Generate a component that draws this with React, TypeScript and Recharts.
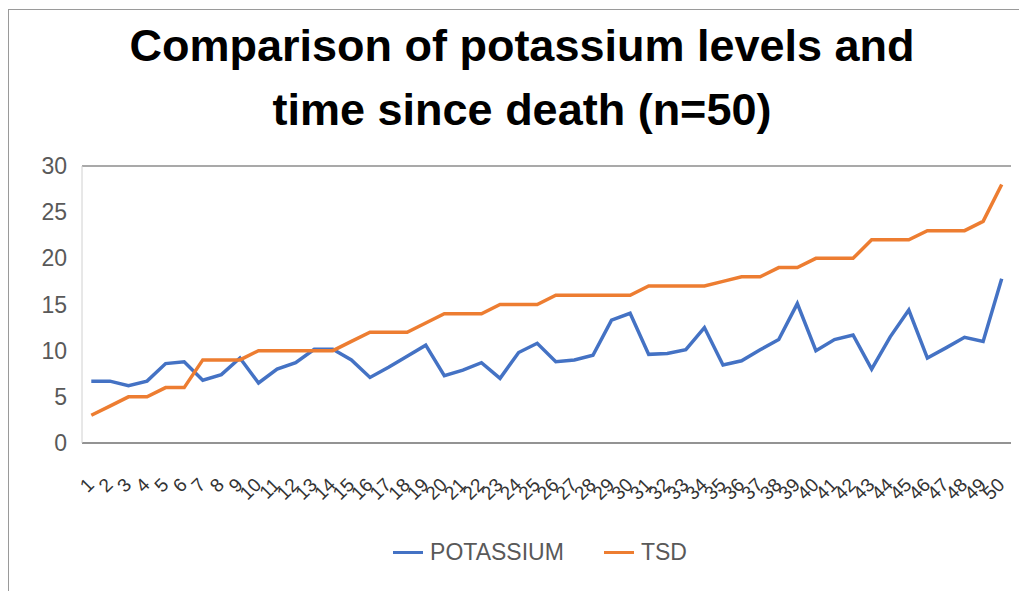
import React from 'react';
import { LineChart, Line, XAxis, YAxis, CartesianGrid } from 'recharts';

const caseLabels = [
  '1', '2', '3', '4', '5', '6', '7', '8', '9', '10',
  '11', '12', '13', '14', '15', '16', '17', '18', '19', '20',
  '21', '22', '23', '24', '25', '26', '27', '28', '29', '30',
  '31', '32', '33', '34', '35', '36', '37', '38', '39', '40',
  '41', '42', '43', '44', '45', '46', '47', '48', '49', '50',
];

const potassium = [
  6.7, 6.7, 6.2, 6.7, 8.6, 8.8, 6.8, 7.4, 9.2, 6.5,
  8.0, 8.7, 10.15, 10.15, 9.0, 7.1, 8.2, 9.4, 10.6, 7.3,
  7.9, 8.7, 7.0, 9.8, 10.8, 8.8, 9.0, 9.5, 13.3, 14.05,
  9.6, 9.7, 10.1, 12.5, 8.45, 8.9, 10.1, 11.2, 15.1, 10.0,
  11.2, 11.7, 8.0, 11.5, 14.4, 9.2, 10.3, 11.45, 11.0, 17.8,
];

const tsd = [
  3, 4, 5, 5, 6, 6, 9, 9, 9, 10,
  10, 10, 10, 10, 11, 12, 12, 12, 13, 14,
  14, 14, 15, 15, 15, 16, 16, 16, 16, 16,
  17, 17, 17, 17, 17.5, 18, 18, 19, 19, 20,
  20, 20, 22, 22, 22, 23, 23, 23, 24, 28,
];

const yTicks = [0, 5, 10, 15, 20, 25, 30];

const seriesInfo = [
  { key: 'potassium', name: 'POTASSIUM', color: '#4472C4' },
  { key: 'tsd', name: 'TSD', color: '#ED7D31' },
];

const data = caseLabels.map((label, i) => ({
  label,
  potassium: potassium[i],
  tsd: tsd[i],
}));

const FONT = '"Liberation Sans", Arial, sans-serif';
const GRID = '#8c8c8c';

const XTick = ({ x, y, payload }: any) => {
  const ax = x + 4;
  const ay = y + 41;
  return (
    <text
      x={ax}
      y={ay}
      transform={`rotate(-45, ${ax}, ${ay})`}
      textAnchor="end"
      fontSize={19}
      fontFamily={FONT}
      fill="#333"
    >
      {payload.value}
    </text>
  );
};

export default function App() {
  return (
    <div
      style={{
        position: 'absolute',
        left: 0,
        top: 0,
        width: 1019,
        height: 591,
        background: '#fff',
        overflow: 'hidden',
      }}
    >
      {/* frame of the pasted chart */}
      <div
        style={{
          position: 'absolute',
          left: 8,
          top: 9,
          width: 1100,
          height: 700,
          borderLeft: '1.5px solid #9a9a9a',
          borderTop: '1.5px solid #9a9a9a',
        }}
      />

      <svg width={1019} height={140} style={{ position: 'absolute', left: 0, top: 0 }}>
        <text
          x={522}
          y={61}
          textAnchor="middle"
          fontSize={45}
          fontWeight="bold"
          fontFamily={FONT}
          fill="#000"
        >
          Comparison of potassium levels and
        </text>
        <text
          x={522}
          y={125}
          textAnchor="middle"
          fontSize={45}
          fontWeight="bold"
          fontFamily={FONT}
          fill="#000"
        >
          time since death (n=50)
        </text>
      </svg>

      <div style={{ position: 'absolute', left: 0, top: 0 }}>
        <LineChart
          width={1019}
          height={591}
          data={data}
          margin={{ top: 166, right: 8, left: 0, bottom: 88 }}
        >
          <CartesianGrid horizontal vertical={false} stroke={GRID} strokeWidth={1.5} />
          <XAxis
            dataKey="label"
            interval={0}
            height={60}
            padding={{ left: 9.3, right: 9.3 }}
            tickLine={false}
            tickSize={0}
            axisLine={{ stroke: GRID, strokeWidth: 1.5 }}
            tick={<XTick />}
          />
          <YAxis
            yAxisId="l"
            width={82}
            domain={[0, 30]}
            ticks={yTicks}
            tickLine={false}
            tickSize={0}
            tickMargin={15}
            axisLine={{ stroke: '#d0d0d0' }}
            tick={{ fill: '#595959', fontSize: 23, fontFamily: FONT }}
          />
          <YAxis
            yAxisId="r"
            orientation="right"
            width={0}
            domain={[0, 30]}
            tick={false}
            tickLine={false}
            axisLine={{ stroke: '#d0d0d0' }}
          />
          {seriesInfo.map((s) => (
            <Line
              key={s.key}
              yAxisId="l"
              type="linear"
              dataKey={s.key}
              name={s.name}
              stroke={s.color}
              strokeWidth={3.5}
              dot={false}
              isAnimationActive={false}
            />
          ))}
        </LineChart>
      </div>

      <div
        style={{
          position: 'absolute',
          left: 0,
          width: 1080,
          top: 539,
          display: 'flex',
          justifyContent: 'center',
          gap: 40,
          fontFamily: FONT,
          fontSize: 23,
          color: '#595959',
        }}
      >
        {seriesInfo.map((s) => (
          <div key={s.key} style={{ display: 'flex', alignItems: 'center' }}>
            <span
              style={{
                display: 'inline-block',
                width: 30,
                height: 3.5,
                background: s.color,
                marginRight: 7,
              }}
            />
            <span>{s.name}</span>
          </div>
        ))}
      </div>
    </div>
  );
}
